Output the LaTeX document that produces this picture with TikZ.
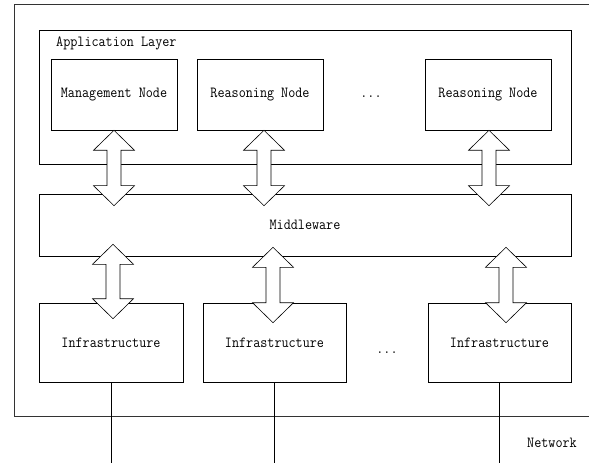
\documentclass[tikz,border=0pt]{standalone}
\usepackage{fontspec}
\setmonofont{Latin Modern Mono}[FakeStretch=0.89]
\usetikzlibrary{calc}
\tikzset{
  box/.style={draw, line width=0.6pt, inner sep=0pt, font=\ttfamily\fontsize{15.5}{17}\selectfont},
  txt/.style={inner sep=0pt, font=\ttfamily\fontsize{15.5}{17}\selectfont},
  fatarrow/.style={draw, fill=white, line width=0.6pt, line join=miter},
}
\newcommand{\dualarrow}[2]{%
  \draw[fatarrow] (#1) -- ++(20.5,20) -- ++(-13.5,0) -- ($(#2)+(7,-20)$)
    -- ++(13.5,0) -- (#2) -- ++(-20.5,-20) -- ++(13.5,0)
    -- ($(#1)+(-7,20)$) -- ++(-13.5,0) -- cycle;}
\begin{document}
\begin{tikzpicture}[x=1bp,y=-1bp]
    \useasboundingbox (0,0) rectangle (589,463);
    % outer frame
    \draw[line width=0.6pt, black!80] (589,4) -- (14,4) -- (14,416) -- (589,416);

    % application layer
    \node[box, minimum width=532bp, minimum height=134bp] (app) at (305,97) {};
    \node[txt, anchor=west] (applabel) at (56,43) {Application Layer};
    \node[box, minimum width=126bp, minimum height=71bp] (mgmt) at (114,94.5) {Management Node};
    \node[box, minimum width=126bp, minimum height=71bp] (reason1) at (260,94.5) {Reasoning Node};
    \node[txt] (dotsA) at (371,97) {...};
    \node[box, minimum width=126bp, minimum height=71bp] (reason2) at (488,94.5) {Reasoning Node};

    % middleware
    \node[box, minimum width=532bp, minimum height=62bp] (mw) at (305,225) {Middleware};

    % infrastructure
    \node[box, minimum width=144bp, minimum height=79bp] (infra1) at (111,342.5) {Infrastructure};
    \node[box, minimum width=143bp, minimum height=79bp] (infra2) at (274.5,342.5) {Infrastructure};
    \node[txt] (dotsB) at (387,353) {...};
    \node[box, minimum width=143bp, minimum height=79bp] (infra3) at (499.5,342.5) {Infrastructure};

    % network
    \draw[line width=0.6pt] (infra1.south) -- ++(0,81);
    \draw[line width=0.6pt] (infra2.south) -- ++(0,81);
    \draw[line width=0.6pt] (infra3.south) -- ++(0,81);
    \node[txt] (net) at (552,443) {Network};

    % arrows
    \coordinate (up1) at (mgmt.south);
    \coordinate (dn1) at ($(mgmt.south |- mw.north)+(0,12)$);
    \coordinate (up2) at ($(reason1.south)+(4,0)$);
    \coordinate (dn2) at ($(reason1.south |- mw.north)+(4,12)$);
    \coordinate (up3) at ($(reason2.south)+(1,0)$);
    \coordinate (dn3) at ($(reason2.south |- mw.north)+(1,12)$);
    \coordinate (up4) at ($(infra1.north |- mw.south)+(2,-12)$);
    \coordinate (dn4) at ($(infra1.north)+(2,16)$);
    \coordinate (up5) at ($(infra2.north |- mw.south)+(-1.5,-9)$);
    \coordinate (dn5) at ($(infra2.north)+(-1.5,20)$);
    \coordinate (up6) at ($(infra3.north |- mw.south)+(6.5,-9)$);
    \coordinate (dn6) at ($(infra3.north)+(6.5,20)$);
    \dualarrow{up1}{dn1}
    \dualarrow{up2}{dn2}
    \dualarrow{up3}{dn3}
    \dualarrow{up4}{dn4}
    \dualarrow{up5}{dn5}
    \dualarrow{up6}{dn6}

\end{tikzpicture}
\end{document}
